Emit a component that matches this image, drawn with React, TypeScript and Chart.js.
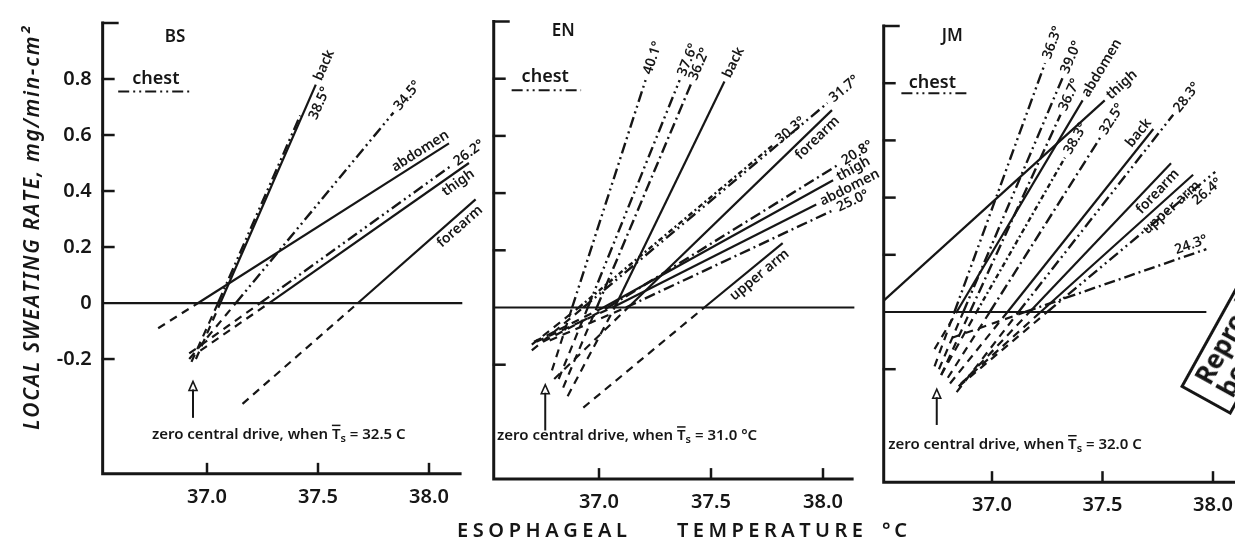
import React, { useEffect, useRef } from 'react';
import { Chart, registerables } from 'chart.js';
Chart.register(...registerables);

const W = 1235;
const H = 544;
const CW = 1300;
const INK = '#161616';
const FONT = '"Noto Sans", "DejaVu Sans", Arial, sans-serif';
const WT = '600';

// ---------------- shared values ----------------
const X_TICKS = [37.0, 37.5, 38.0];
const X_TICK_LABELS = ['37.0', '37.5', '38.0'];
const Y_TICKS = [1.0, 0.8, 0.6, 0.4, 0.2, 0, -0.2];
const Y_TICK_LABELS = ['', '0.8', '0.6', '0.4', '0.2', '0', '-0.2'];
const Y_TITLE = 'LOCAL SWEATING RATE, mg/min-cm²';
const X_TITLE_WORDS = ['ESOPHAGEAL', 'TEMPERATURE', '°C'];
const PANEL_NAMES = ['BS', 'EN', 'JM'];
const LEGEND_LABEL = 'chest';
const ZERO_DRIVE_TS = ['32.5 C', '31.0 °C', '32.0 C'];
const ZERO_LINE_END = [38.15, 38.14, 37.97];
const X_AXIS_END = [38.14, 38.13, 38.1];
const NAME_X = [36.856, 36.84, 36.82];
const NAME_Y = [0.95, 0.965, 0.965];
const LEGEND_TEXT_X = [36.77, 36.76, 36.73];
const LEGEND_TEXT_Y = [0.8, 0.805, 0.8];
const LEGEND_LINE_X0 = [36.6, 36.61, 36.59];
const LEGEND_LINE_X1 = [36.92, 36.92, 36.89];
const LEGEND_LINE_Y = [0.755, 0.76, 0.765];
const ARROW_X = [36.937, 36.76, 36.75];
const ARROW_Y_FROM = [-0.41, -0.43, -0.395];
const ARROW_Y_TO = [-0.28, -0.27, -0.27];
const ZD_X = [36.752, 36.545, 36.53];
const ZD_Y = [-0.47, -0.45, -0.465];

// ---------------- BS ----------------
const BS_LABELS = ['back', '38.5°', '34.5°', 'abdomen', '26.2°', 'thigh', 'forearm'];
const BS_X0 = [36.95, 36.93, 36.92, 36.78, 36.92, 36.97, 37.16];
const BS_Y0 = [-0.2, -0.21, -0.2, -0.09, -0.18, -0.17, -0.36];
const BS_XZ = [37.06, 37.05, 37.13, 36.96, 37.24, 37.28, 37.68];
const BS_YZ = [0, 0, 0, 0, 0, 0, 0];
const BS_X1 = [37.49, 37.42, 37.84, 38.09, 38.1, 38.18, 38.21];
const BS_Y1 = [0.78, 0.67, 0.68, 0.57, 0.49, 0.5, 0.37];
const BS_STYLE = ['solid', 'ddd', 'ddd', 'solid', 'ddd', 'solid', 'solid'];
const BS_POS = ['e', 's', 'e', 'a', 'e', 'b', 'b'];

// ---------------- EN ----------------
const EN_LABELS = ['40.1°', '37.6°', '36.2°', 'back', '30.3°', '31.7°', 'forearm', '20.8°', 'thigh', 'abdomen', '25.0°', 'upper arm'];
const EN_X0 = [36.79, 36.82, 36.84, 36.86, 36.7, 36.7, 36.8, 36.75, 36.71, 36.72, 36.78, 36.93];
const EN_Y0 = [-0.22, -0.25, -0.28, -0.31, -0.13, -0.15, -0.25, -0.12, -0.12, -0.12, -0.115, -0.35];
const EN_XZ = [36.88, 36.95, 36.99, 37.07, 36.91, 36.93, 37.13, 37.04, 37.02, 37.06, 37.12, 37.47];
const EN_YZ = [0, 0, 0, 0, 0, 0, 0, 0, 0, 0, 0, 0];
const EN_X1 = [37.21, 37.36, 37.41, 37.56, 37.78, 38.02, 38.04, 38.07, 38.045, 37.97, 38.045, 37.82];
const EN_Y1 = [0.8, 0.795, 0.78, 0.79, 0.57, 0.715, 0.69, 0.5, 0.445, 0.36, 0.34, 0.225];
const EN_STYLE = ['ddd', 'ddd', 'dd', 'solid', 'dot', 'ddd', 'solid', 'dd', 'solid', 'solid', 'dd', 'solid'];
const EN_POS = ['e', 'e', 'e', 'e', 'e', 'e', 'b', 'e', 'e', 'e', 'e', 'b'];

// ---------------- JM ----------------
const JM_LABELS = ['thigh', 'abdomen', '36.3°', '39.0°', '36.7°', '38.3°', '32.5°', 'back', '28.3°', 'forearm', 'upper arm', '26.4°', '24.3°'];
const JM_X0 = [36.51, 36.74, 36.74, 36.76, 36.77, 36.77, 36.8, 36.81, 36.84, 36.85, 36.86, 36.85, 36.82];
const JM_Y0 = [0.04, -0.13, -0.19, -0.2, -0.22, -0.22, -0.23, -0.25, -0.28, -0.26, -0.25, -0.26, -0.09];
const JM_XZ = [36.51, 36.84, 36.83, 36.87, 36.9, 36.93, 36.99, 37.07, 37.12, 37.17, 37.22, 37.25, 37.15];
const JM_YZ = [0.04, 0, 0, 0, 0, 0, 0, 0, 0, 0, 0, 0, 0];
const JM_X1 = [37.51, 37.41, 37.24, 37.32, 37.31, 37.33, 37.49, 37.73, 37.82, 37.81, 37.91, 38.01, 37.97];
const JM_Y1 = [0.74, 0.74, 0.87, 0.82, 0.69, 0.54, 0.61, 0.64, 0.69, 0.52, 0.48, 0.49, 0.22];
const JM_STYLE = ['solid', 'solid', 'ddd', 'ddd', 'dd', 'dot', 'dd', 'solid', 'ddd', 'solid', 'solid', 'ddd', 'dd'];
const JM_POS = ['e', 'e', 'e', 'e', 'e', 'e', 'e', 'a', 'e', 'b', 'b', 'b', 'a'];

// ---------------- styles / layout ----------------
const DASH: Record<string, number[]> = {
  solid: [],
  ddd: [11, 4, 2, 4, 2, 4],
  dd: [11, 4, 2, 4],
  dot: [5, 3, 2, 3],
  ext: [8, 6],
};

const GEOM = [
  { px37: 207, ppd: 222, xmin: 36.53, xmax: 38.14, py0: 300, ppu: 285, ymin: -0.61, ymax: 1.0 },
  { px37: 599, ppd: 224, xmin: 36.53, xmax: 38.14, py0: 307.5, ppu: 286, ymin: -0.6, ymax: 1.0 },
  { px37: 992, ppd: 221, xmin: 36.51, xmax: 38.1, py0: 312, ppu: 286, ymin: -0.595, ymax: 1.0 },
];
const Y_SCALE_W = 60;
const X_SCALE_H = 45;

const PANELS = [
  { labels: BS_LABELS, x0: BS_X0, y0: BS_Y0, xz: BS_XZ, yz: BS_YZ, x1: BS_X1, y1: BS_Y1, style: BS_STYLE, pos: BS_POS },
  { labels: EN_LABELS, x0: EN_X0, y0: EN_Y0, xz: EN_XZ, yz: EN_YZ, x1: EN_X1, y1: EN_Y1, style: EN_STYLE, pos: EN_POS },
  { labels: JM_LABELS, x0: JM_X0, y0: JM_Y0, xz: JM_XZ, yz: JM_YZ, x1: JM_X1, y1: JM_Y1, style: JM_STYLE, pos: JM_POS },
];

function drawSpaced(ctx: CanvasRenderingContext2D, text: string, x: number, y: number, width: number) {
  const chars = Array.from(text);
  const widths = chars.map((c) => ctx.measureText(c).width);
  const natural = widths.reduce((a, b) => a + b, 0);
  const ls = chars.length > 1 ? (width - natural) / (chars.length - 1) : 0;
  let cx = x;
  chars.forEach((c, k) => {
    ctx.fillText(c, cx, y);
    cx += widths[k] + ls;
  });
}

function makePlugin(i: number) {
  return {
    id: 'panelDecor' + i,
    beforeDatasetsDraw(chart: any) {
      const { ctx, chartArea } = chart;
      const xs = chart.scales.x;
      const ys = chart.scales.y;
      const L = chartArea.left;
      const B = chartArea.bottom;
      const T = chartArea.top;
      ctx.save();
      ctx.strokeStyle = INK;
      ctx.lineWidth = 3;
      ctx.lineCap = 'square';
      ctx.beginPath();
      ctx.moveTo(L, T);
      ctx.lineTo(L, B);
      ctx.lineTo(xs.getPixelForValue(X_AXIS_END[i]), B);
      ctx.stroke();
      ctx.lineCap = 'butt';
      ctx.lineWidth = 2.5;
      Y_TICKS.forEach((v) => {
        if (v === 0) return;
        const y = ys.getPixelForValue(v);
        ctx.beginPath();
        ctx.moveTo(L - 1, y);
        ctx.lineTo(L + (v === 1 ? 16 : 12), y);
        ctx.stroke();
      });
      X_TICKS.forEach((v) => {
        const x = xs.getPixelForValue(v);
        ctx.beginPath();
        ctx.moveTo(x, B);
        ctx.lineTo(x, B - 11);
        ctx.stroke();
      });
      ctx.lineWidth = 2.2;
      const y0 = ys.getPixelForValue(0);
      ctx.beginPath();
      ctx.moveTo(L, y0);
      ctx.lineTo(xs.getPixelForValue(ZERO_LINE_END[i]), y0);
      ctx.stroke();
      ctx.restore();
    },
    afterDatasetsDraw(chart: any) {
      const { ctx } = chart;
      const xs = chart.scales.x;
      const ys = chart.scales.y;
      const p = PANELS[i];
      ctx.save();
      ctx.fillStyle = INK;
      ctx.strokeStyle = INK;

      // line labels
      ctx.font = `${WT} 14px ${FONT}`;
      ctx.textBaseline = 'middle';
      p.labels.forEach((lab, k) => {
        const ax = xs.getPixelForValue(p.xz[k]);
        const ay = ys.getPixelForValue(p.yz[k]);
        const bx = xs.getPixelForValue(p.x1[k]);
        const by = ys.getPixelForValue(p.y1[k]);
        const ang = Math.atan2(by - ay, bx - ax);
        ctx.save();
        ctx.translate(bx, by);
        ctx.rotate(ang);
        const pos = p.pos[k];
        if (pos === 'e') {
          ctx.textAlign = 'left';
          ctx.fillText(lab, 5, 0);
        } else if (pos === 'a') {
          ctx.textAlign = 'right';
          ctx.fillText(lab, 4, -9);
        } else if (pos === 'b') {
          ctx.textAlign = 'right';
          ctx.fillText(lab, -2, 10);
        } else {
          ctx.textAlign = 'left';
          ctx.fillText(lab, 2, 13);
        }
        ctx.restore();
      });

      // panel name
      ctx.font = `${WT} 17px ${FONT}`;
      ctx.textAlign = 'center';
      ctx.fillText(PANEL_NAMES[i], xs.getPixelForValue(NAME_X[i]), ys.getPixelForValue(NAME_Y[i]));

      // legend
      ctx.font = `${WT} 18px ${FONT}`;
      ctx.fillText(LEGEND_LABEL, xs.getPixelForValue(LEGEND_TEXT_X[i]), ys.getPixelForValue(LEGEND_TEXT_Y[i]));
      ctx.lineWidth = 2;
      ctx.setLineDash(DASH.ddd);
      const ly = ys.getPixelForValue(LEGEND_LINE_Y[i]);
      ctx.beginPath();
      ctx.moveTo(xs.getPixelForValue(LEGEND_LINE_X0[i]), ly);
      ctx.lineTo(xs.getPixelForValue(LEGEND_LINE_X1[i]), ly);
      ctx.stroke();
      ctx.setLineDash([]);

      // arrow
      const axp = xs.getPixelForValue(ARROW_X[i]);
      const ya = ys.getPixelForValue(ARROW_Y_FROM[i]);
      const yb = ys.getPixelForValue(ARROW_Y_TO[i]);
      ctx.lineWidth = 2;
      ctx.beginPath();
      ctx.moveTo(axp, ya);
      ctx.lineTo(axp, yb + 8);
      ctx.stroke();
      ctx.lineWidth = 1.6;
      ctx.beginPath();
      ctx.moveTo(axp, yb);
      ctx.lineTo(axp - 4, yb + 9);
      ctx.lineTo(axp + 4, yb + 9);
      ctx.closePath();
      ctx.stroke();

      // zero central drive text
      let tx = xs.getPixelForValue(ZD_X[i]);
      const ty = ys.getPixelForValue(ZD_Y[i]);
      ctx.textAlign = 'left';
      ctx.font = `${WT} 15px ${FONT}`;
      const s1 = 'zero central drive, when ';
      ctx.fillText(s1, tx, ty);
      tx += ctx.measureText(s1).width;
      ctx.fillText('T', tx, ty);
      const tw = ctx.measureText('T').width;
      ctx.fillRect(tx, ty - 10, tw, 1.5);
      tx += tw;
      ctx.font = `${WT} 11px ${FONT}`;
      ctx.fillText('s', tx, ty + 4);
      tx += ctx.measureText('s').width;
      ctx.font = `${WT} 15px ${FONT}`;
      ctx.fillText(' = ' + ZERO_DRIVE_TS[i], tx, ty);
      ctx.restore();
    },
    afterDraw(chart: any) {
      if (i !== 0) return;
      const { ctx } = chart;
      ctx.save();
      ctx.fillStyle = INK;
      ctx.textAlign = 'left';
      ctx.textBaseline = 'middle';
      // y title
      ctx.font = `italic ${WT} 21px ${FONT}`;
      ctx.translate(33, 430);
      ctx.rotate(-Math.PI / 2);
      drawSpaced(ctx, Y_TITLE, 0, 0, 403);
      ctx.restore();
      ctx.save();
      ctx.fillStyle = INK;
      ctx.textAlign = 'left';
      ctx.textBaseline = 'middle';
      ctx.font = `${WT} 20px ${FONT}`;
      const starts = [457, 677, 882];
      const widths = [170, 186, 25];
      X_TITLE_WORDS.forEach((w, k) => drawSpaced(ctx, w, starts[k], 531, widths[k]));
      ctx.restore();
    },
  };
}

function buildConfig(i: number): any {
  const g = GEOM[i];
  const p = PANELS[i];
  const areaLeft = g.px37 - (37 - g.xmin) * g.ppd;
  const areaRight = g.px37 + (g.xmax - 37) * g.ppd;
  const areaTop = g.py0 - g.ymax * g.ppu;
  const areaBottom = g.py0 - g.ymin * g.ppu;
  const left = areaLeft - Y_SCALE_W;
  const right = CW - areaRight;
  const top = areaTop;
  const bottom = H - areaBottom - X_SCALE_H;
  const datasets: any[] = [];
  p.labels.forEach((lab, k) => {
    const base = {
      showLine: true,
      pointRadius: 0,
      borderColor: INK,
      backgroundColor: INK,
      fill: false,
      tension: 0,
      clip: false,
    };
    if (p.y0[k] < p.yz[k]) {
      datasets.push({
        ...base,
        label: lab + ' (extrapolated)',
        data: [
          { x: p.x0[k], y: p.y0[k] },
          { x: p.xz[k], y: p.yz[k] },
        ],
        borderWidth: 2.2,
        borderDash: DASH.ext,
      });
    }
    datasets.push({
      ...base,
      label: lab,
      data: [
        { x: p.xz[k], y: p.yz[k] },
        { x: p.x1[k], y: p.y1[k] },
      ],
      borderWidth: p.style[k] === 'solid' ? 2.2 : 2.4,
      borderDash: DASH[p.style[k]],
    });
  });
  return {
    type: 'scatter',
    data: { datasets },
    options: {
      responsive: false,
      animation: false,
      devicePixelRatio: 1,
      layout: { autoPadding: false, padding: { left, right, top, bottom } },
      plugins: { legend: { display: false }, tooltip: { enabled: false }, title: { display: false } },
      scales: {
        x: {
          type: 'linear',
          min: g.xmin,
          max: g.xmax,
          grid: { display: false, drawTicks: false },
          border: { display: false },
          afterBuildTicks: (s: any) => {
            s.ticks = X_TICKS.map((v) => ({ value: v }));
          },
          afterFit: (s: any) => {
            s.height = X_SCALE_H;
          },
          ticks: {
            autoSkip: false,
            maxRotation: 0,
            padding: 11,
            color: INK,
            font: { family: FONT, size: 20, weight: WT },
            callback: (_v: any, idx: number) => X_TICK_LABELS[idx],
          },
        },
        y: {
          type: 'linear',
          min: g.ymin,
          max: g.ymax,
          grid: { display: false, drawTicks: false },
          border: { display: false },
          afterBuildTicks: (s: any) => {
            s.ticks = Y_TICKS.map((v) => ({ value: v }));
          },
          afterFit: (s: any) => {
            s.width = Y_SCALE_W;
          },
          ticks: {
            display: i === 0,
            autoSkip: false,
            padding: 11,
            color: INK,
            font: { family: FONT, size: 20, weight: WT },
            callback: (_v: any, idx: number) => Y_TICK_LABELS[idx],
          },
        },
      },
    },
    plugins: [makePlugin(i)],
  };
}

function Panel({ idx }: { idx: number }) {
  const ref = useRef<HTMLCanvasElement>(null);
  useEffect(() => {
    const chart = new Chart(ref.current as HTMLCanvasElement, buildConfig(idx));
    return () => chart.destroy();
  }, [idx]);
  return (
    <canvas
      ref={ref}
      width={CW}
      height={H}
      style={{ position: 'absolute', left: 0, top: 0, width: CW, height: H }}
    />
  );
}

export default function App() {
  return (
    <div
      style={{
        position: 'absolute',
        left: 0,
        top: 0,
        width: W,
        height: H,
        overflow: 'hidden',
        background: '#ffffff',
      }}
    >
      <Panel idx={0} />
      <Panel idx={1} />
      <Panel idx={2} />
      <div
        style={{
          position: 'absolute',
          left: 1180,
          top: 387,
          transformOrigin: '0 0',
          transform: 'rotate(-61deg)',
          border: `3px solid ${INK}`,
          padding: '0px 12px',
          font: `bold 26px ${FONT}`,
          lineHeight: '26px',
          whiteSpace: 'nowrap',
          color: INK,
        }}
      >
        Reproduced from
        <br />
        best available copy.
      </div>
    </div>
  );
}
